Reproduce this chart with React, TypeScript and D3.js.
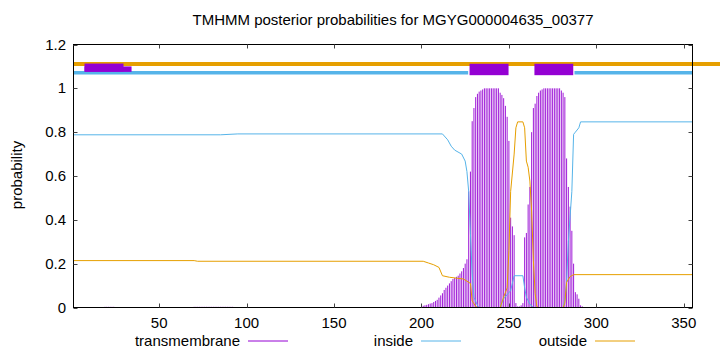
import React from 'react';
import * as d3 from 'd3';

// posterior probabilities
const insidePoints: [number, number][] = [
  [1, 0.788], [85, 0.788], [95, 0.792], [212, 0.792], [215, 0.765], [217, 0.736],
  [219, 0.718], [223, 0.7], [225, 0.668], [226, 0.62], [227, 0.53], [228, 0.336],
  [229, 0.153], [230, 0.047], [232, 0.01], [233, 0], [245, 0], [247, 0.04],
  [251, 0.077], [253, 0.145], [258, 0.145], [259, 0.09], [260, 0.047], [262, 0.015],
  [264, 0], [281, 0], [282, 0.03], [283, 0.12], [284, 0.3], [286, 0.53],
  [287, 0.79], [288, 0.8], [290, 0.82], [291, 0.847], [355, 0.847]
];

const outsidePoints: [number, number][] = [
  [1, 0.214], [70, 0.214], [72, 0.211], [201, 0.211], [204, 0.203], [207, 0.195],
  [210, 0.183], [212, 0.145], [216, 0.138], [224, 0.13], [228, 0.11], [229, 0.03],
  [231, 0.005], [232, 0], [245, 0], [247, 0.047], [249, 0.09], [250, 0.26],
  [251, 0.53], [253, 0.7], [254, 0.82], [255, 0.847], [258, 0.847], [259, 0.82],
  [260, 0.668], [261, 0.64], [262, 0.577], [263, 0.44], [264, 0.214], [265, 0.064],
  [266, 0.005], [267, 0], [281, 0], [282, 0.02], [283, 0.115], [285, 0.141],
  [287, 0.15], [355, 0.15]
];

// transmembrane impulses, one value per residue starting at `start`
const tmSegments = [
  { start: 19, values: [0.003, 0.003, 0.003, 0.003, 0.003, 0.003] },
  {
    start: 70,
    values: [0.003, 0.003, 0.003, 0.003, 0.003, 0.003, 0.003, 0.003, 0.003, 0.003, 0.003, 0.003,
      0.003, 0.003, 0.003, 0.003, 0.003, 0.003, 0.003, 0.003, 0.003, 0.003, 0.003]
  },
  {
    start: 200,
    values: [
      0.005, 0.008, 0.01, 0.012, 0.015, 0.018, 0.02, 0.025, 0.03, 0.035,
      0.045, 0.055, 0.065, 0.08, 0.09, 0.1, 0.11, 0.12, 0.13, 0.135,
      0.14, 0.145, 0.155, 0.165, 0.18, 0.2, 0.22, 0.53, 0.62, 0.85,
      0.91, 0.96, 0.975, 0.985, 0.99, 0.995, 1, 1, 1, 1,
      1, 1, 1, 1, 1, 0.98, 0.97, 0.955, 0.92, 0.87,
      0.76, 0.41, 0.37, 0.33, 0.02, 0.005, 0.005, 0.01, 0.02, 0.32,
      0.34, 0.47, 0.55, 0.8, 0.91, 0.93, 0.965, 0.98, 0.99, 0.995,
      1, 1, 1, 1, 1, 1, 1, 1, 1, 1,
      0.99, 0.98, 0.96, 0.68, 0.55, 0.46, 0.35, 0.2, 0.07, 0.06,
      0.04, 0.01, 0.005
    ]
  }
];

// predicted topology bars along the top
const outsideBars: [number, number][] = [[1, 371]];
const insideBars: [number, number][] = [[1, 226.7], [287.5, 355]];
const tmBoxes: [number, number, number, number][] = [
  [7.3, 29.6, 1.077, 1.113],
  [7.3, 34.2, 1.075, 1.1],
  [227.5, 249.8, 1.06, 1.112],
  [264.6, 286.8, 1.06, 1.112]
];

const xTicks = [50, 100, 150, 200, 250, 300, 350];
const yTicks = [0, 0.2, 0.4, 0.6, 0.8, 1, 1.2];
const legendItems = ['transmembrane', 'inside', 'outside'];

const WIDTH = 720;
const HEIGHT = 352;
const COLORS = { tm: '#9400d3', inside: '#56b4e9', outside: '#e69f00' };
const FONT = '"Liberation Sans", Arial, Helvetica, sans-serif';

const App = () => {
  const left = 73.5;
  const right = 692.5;
  const top = 44.5;
  const bottom = 307.5;

  const x = d3.scaleLinear().domain([1, 355]).range([left, right]);
  const y = d3.scaleLinear().domain([0, 1.2]).range([bottom, top]);

  const line = d3.line<[number, number]>()
    .x(d => x(d[0]))
    .y(d => y(d[1]));

  const impulses = tmSegments.flatMap(seg =>
    seg.values.map((v, i) => ({ pos: seg.start + i, value: v }))
  );

  const legendX = [240, 413, 587];
  const legendColors = [COLORS.tm, COLORS.inside, COLORS.outside];

  return (
    <svg
      width={WIDTH}
      height={HEIGHT}
      style={{ position: 'absolute', left: 0, top: 0, background: '#fff', fontFamily: FONT }}
    >
      <text x={393} y={25} textAnchor="middle" fontSize={15} fill="#000">
        TMHMM posterior probabilities for MGYG000004635_00377
      </text>

      {/* transmembrane impulses */}
      {impulses.map(d => (
        <line
          key={`tm-${d.pos}`}
          x1={x(d.pos)}
          x2={x(d.pos)}
          y1={y(0)}
          y2={y(d.value)}
          stroke={COLORS.tm}
          strokeWidth={0.9}
        />
      ))}

      <path d={line(insidePoints) || ''} fill="none" stroke={COLORS.inside} strokeWidth={1} />
      <path d={line(outsidePoints) || ''} fill="none" stroke={COLORS.outside} strokeWidth={1} />

      {/* topology bars */}
      {outsideBars.map((b, i) => (
        <line key={`ob-${i}`} x1={x(b[0])} x2={x(b[1])} y1={y(1.111)} y2={y(1.111)}
          stroke={COLORS.outside} strokeWidth={4} />
      ))}
      {insideBars.map((b, i) => (
        <line key={`ib-${i}`} x1={x(b[0])} x2={x(b[1])} y1={y(1.071)} y2={y(1.071)}
          stroke={COLORS.inside} strokeWidth={3.5} />
      ))}
      {tmBoxes.map((b, i) => (
        <rect key={`box-${i}`} x={x(b[0])} width={x(b[1]) - x(b[0])}
          y={y(b[3])} height={y(b[2]) - y(b[3])} fill={COLORS.tm} />
      ))}

      {/* frame */}
      <rect x={left} y={top} width={right - left} height={bottom - top}
        fill="none" stroke="#000" strokeWidth={1} />

      {yTicks.map(t => (
        <g key={`y-${t}`}>
          <line x1={left} x2={left + 4} y1={Math.round(y(t)) + 0.5} y2={Math.round(y(t)) + 0.5} stroke="#444" />
          <line x1={right - 4} x2={right} y1={Math.round(y(t)) + 0.5} y2={Math.round(y(t)) + 0.5} stroke="#444" />
          <text x={66} y={y(t) + 5} textAnchor="end" fontSize={15} fill="#000">{d3.format('~g')(t)}</text>
        </g>
      ))}

      {xTicks.map(t => (
        <g key={`x-${t}`}>
          <line x1={Math.round(x(t)) + 0.5} x2={Math.round(x(t)) + 0.5} y1={bottom} y2={bottom - 4} stroke="#444" />
          <line x1={Math.round(x(t)) + 0.5} x2={Math.round(x(t)) + 0.5} y1={top} y2={top + 4} stroke="#444" />
          <text x={x(t)} y={328} textAnchor="middle" fontSize={15} fill="#000">{t}</text>
        </g>
      ))}

      <text transform={`translate(22, 175) rotate(-90)`} textAnchor="middle" fontSize={15} fill="#000">
        probability
      </text>

      {legendItems.map((name, i) => (
        <g key={name}>
          <text x={legendX[i]} y={346} textAnchor="end" fontSize={15} fill="#000">{name}</text>
          <line x1={legendX[i] + 8} x2={legendX[i] + 48} y1={341} y2={341}
            stroke={legendColors[i]} strokeWidth={1} />
        </g>
      ))}
    </svg>
  );
};

export default App;
